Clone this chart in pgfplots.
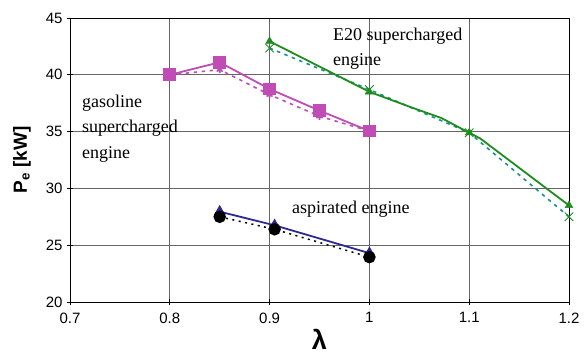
\documentclass[border=0pt]{standalone}
\usepackage{fontspec}
\setmainfont{Liberation Serif}
\setsansfont{Liberation Sans}
\usepackage{pgfplots}
\pgfplotsset{compat=1.18}
\definecolor{cmag}{HTML}{C04DB5}
\definecolor{cgreen}{HTML}{1E8C1E}
\definecolor{cteal}{HTML}{1A9090}
\definecolor{cblue}{HTML}{2E2A8F}
\begin{document}
\begin{tikzpicture}
\begin{axis}[name=ax,
  scale only axis, width=499pt, height=284pt,
  xmin=0.7, xmax=1.2, ymin=20, ymax=45,
  xtick={0.7,0.8,0.9,1,1.1,1.2},
  ytick={20,25,30,35,40,45},
  xticklabels={0.7,0.8,0.9,1,1.1,1.2},
  grid=major,
  grid style={draw=black!60, line width=0.9pt},
  axis line style={line width=0.9pt},
  tick align=center, tick pos=left,
  major tick length=6pt,
  tick style={black, line width=0.8pt},
  /pgf/number format/assume math mode=true,
  ticklabel style={font=\sffamily\fontsize{15}{17}\selectfont},
  yticklabel style={xshift=-1pt},
  xticklabel style={yshift=-4pt},
  xlabel={\sffamily\bfseries\fontsize{27}{29}\selectfont λ},
  every axis x label/.style={at={(axis description cs:0.5,0)}, yshift=-37pt, anchor=center},
  ylabel={\sffamily\bfseries\fontsize{19}{21}\selectfont P\textsubscript{e} [kW]},
  every axis y label/.style={at={(axis description cs:0,0.5)}, xshift=-48pt, rotate=90, anchor=center},
  clip=false,
]
% gasoline supercharged
\addplot[cmag, line width=1.6pt, dash pattern=on 3.5pt off 4.5pt, mark=asterisk, mark size=3.5pt, mark options={solid}]
  coordinates {(0.8,40.0) (0.85,40.45) (0.9,38.25) (0.95,36.35) (1.0,35.05)};
\addplot[cmag, line width=1.8pt, mark=square*, mark size=5.5pt, mark options={solid}]
  coordinates {(0.8,40.0) (0.85,41.1) (0.9,38.75) (0.95,36.85) (1.0,35.05)};
% E20 supercharged
\addplot[cteal, line width=1.6pt, dash pattern=on 3.5pt off 4.5pt, mark=x, mark size=6pt, mark options={solid, cgreen, line width=0.9pt}]
  coordinates {(0.9,42.35) (1.0,38.7) (1.1,34.9) (1.2,27.5)};
\addplot[cgreen, line width=1.8pt]
  coordinates {(0.9,42.95) (1.0,38.5) (1.043,37.1) (1.072,36.2) (1.1,34.9) (1.111,34.4) (1.2,28.5)};
\addplot[cgreen, only marks, mark=triangle*, mark size=4.5pt]
  coordinates {(0.9,42.95) (1.0,38.5) (1.1,34.9) (1.2,28.5)};
% aspirated
\addplot[cblue, line width=1.8pt, mark=triangle*, mark size=5pt, mark options={solid}]
  coordinates {(0.85,27.95) (0.905,26.75) (1.0,24.3)};
\addplot[black, line width=1.5pt, dash pattern=on 2pt off 4.5pt, mark=*, mark size=5.5pt, mark options={solid}]
  coordinates {(0.85,27.5) (0.905,26.4) (1.0,23.95)};
% labels
\node[anchor=base west, inner sep=0pt, font=\fontsize{18}{20}\selectfont] at (axis cs:0.712,37.1) {gasoline};
\node[anchor=base west, inner sep=0pt, font=\fontsize{18}{20}\selectfont] at (axis cs:0.712,34.9) {supercharged};
\node[anchor=base west, inner sep=0pt, font=\fontsize{18}{20}\selectfont] at (axis cs:0.712,32.6) {engine};
\node[anchor=base west, inner sep=0pt, font=\fontsize{18}{20}\selectfont] at (axis cs:0.9635,43.0) {E20 supercharged};
\node[anchor=base west, inner sep=0pt, font=\fontsize{18}{20}\selectfont] at (axis cs:0.9635,40.85) {engine};
\node[anchor=base west, inner sep=0pt, font=\fontsize{18}{20}\selectfont] at (axis cs:0.9224,27.75) {aspirated engine};
\end{axis}
\path ([shift={(-70pt,-55pt)}]ax.south west) rectangle ([shift={(18pt,18pt)}]ax.north east);
\end{tikzpicture}
\end{document}
